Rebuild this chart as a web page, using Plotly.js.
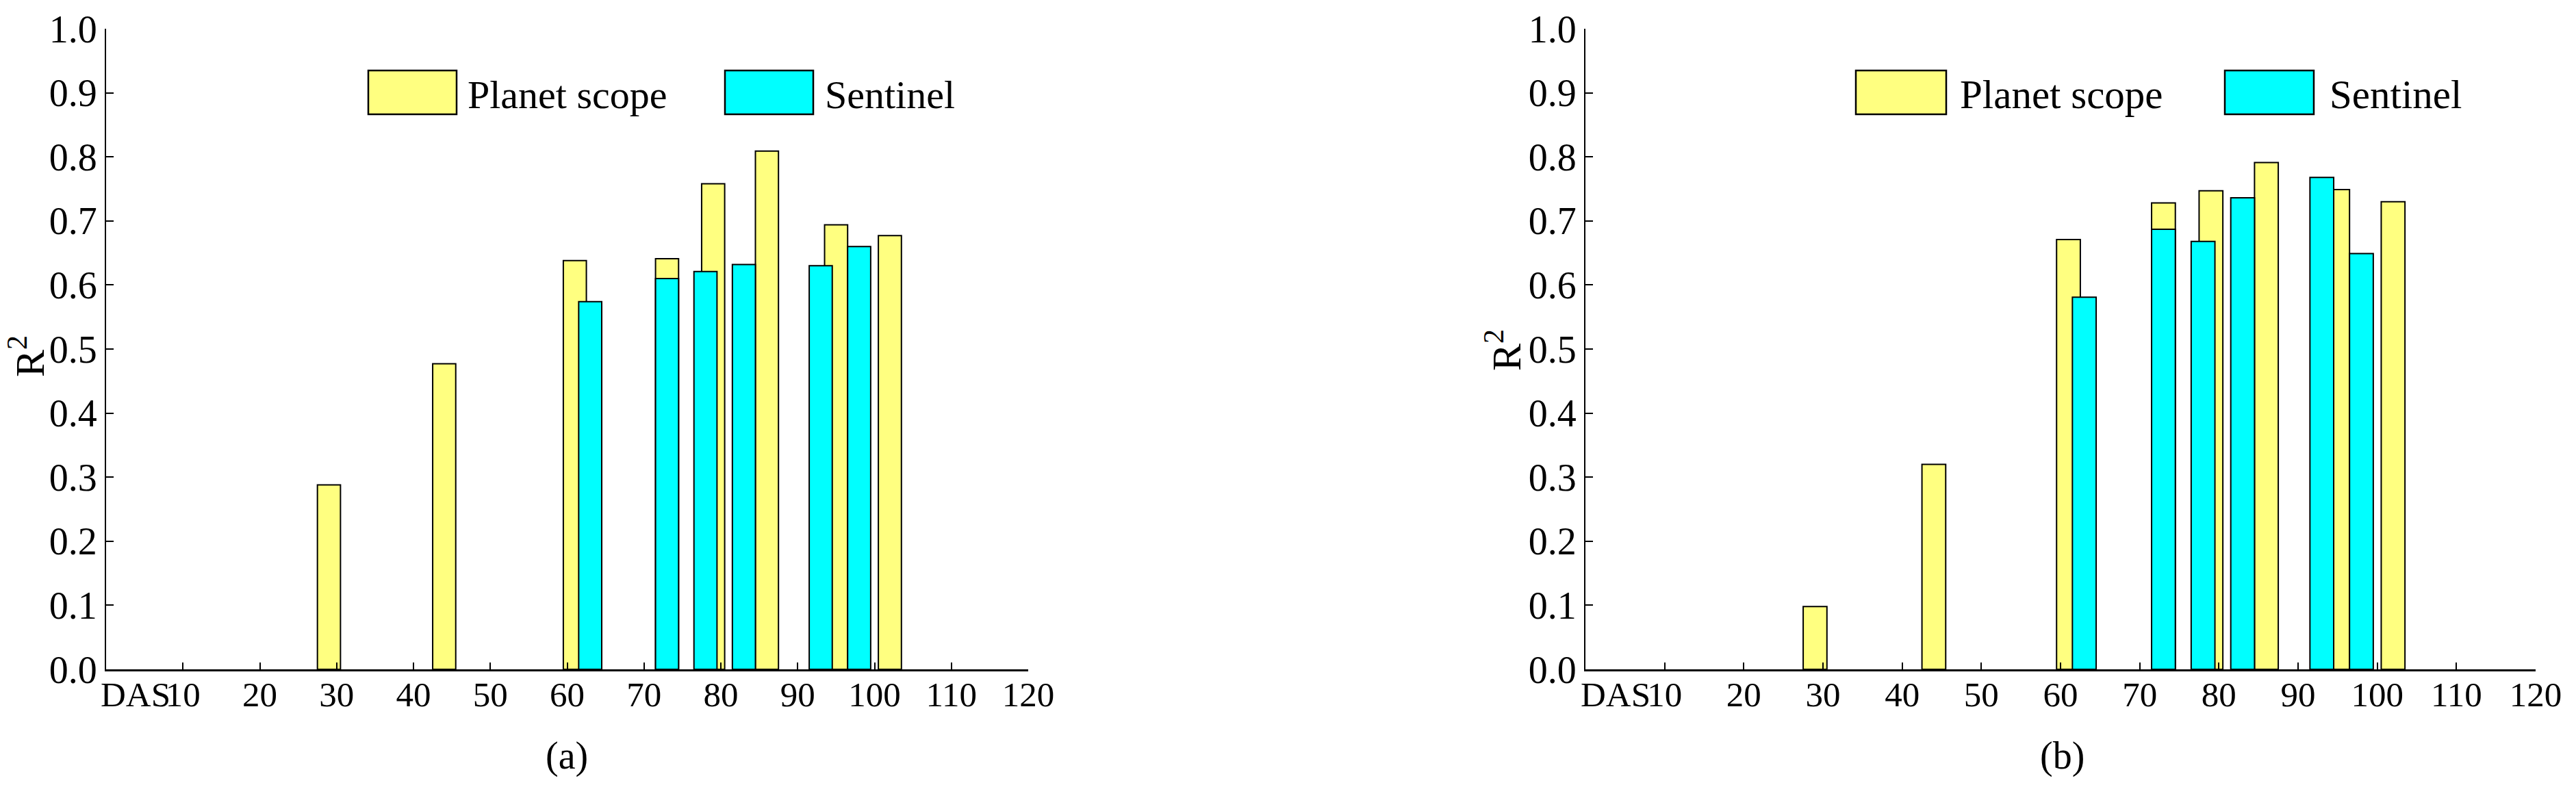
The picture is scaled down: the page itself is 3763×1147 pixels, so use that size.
<!DOCTYPE html>
<html>
<head>
<meta charset="utf-8">
<script src="https://cdn.plot.ly/plotly-3.0.1.min.js"></script>
<style>
  html, body { margin: 0; padding: 0; background: #fff; }
  #chart { width: 3763px; height: 1147px; }
</style>
</head>
<body>
<div id="chart"></div>
<script>
// DAS of each acquisition
var dasPlanet = [29, 44, 61, 73, 79, 86, 95, 102];
var dasSentinel = [63, 73, 78, 83, 93, 98];

// R2 values, panel (a)
var r2PlanetA = [0.288, 0.477, 0.638, 0.641, 0.758, 0.809, 0.694, 0.677];
var r2SentinelA = [0.574, 0.610, 0.621, 0.632, 0.630, 0.660];

// R2 values, panel (b)
var r2PlanetB = [0.098, 0.320, 0.671, 0.728, 0.747, 0.791, 0.749, 0.730];
var r2SentinelB = [0.581, 0.687, 0.668, 0.736, 0.768, 0.649];

var xTicks = [10, 20, 30, 40, 50, 60, 70, 80, 90, 100, 110, 120];
var yTicks = [0, 0.1, 0.2, 0.3, 0.4, 0.5, 0.6, 0.7, 0.8, 0.9, 1.0];
var seriesNames = ['Planet scope', 'Sentinel'];
var seriesColors = ['#ffff80', '#00ffff'];

const W = 3763, H = 1147;
const FONT = 'Liberation Serif';
function px(x) { return x / W; }
function py(y) { return 1 - y / H; }

function barTrace(x, y, i, axis) {
    return {
        type: 'bar',
        x: x,
        y: y,
        width: 3,
        name: seriesNames[i],
        xaxis: 'x' + axis,
        yaxis: 'y' + axis,
        marker: { color: seriesColors[i], line: { color: '#000', width: 2 } },
        hoverinfo: 'x+y'
    };
}

var data = [
    barTrace(dasPlanet, r2PlanetA, 0, ''),
    barTrace(dasSentinel, r2SentinelA, 1, ''),
    barTrace(dasPlanet, r2PlanetB, 0, '2'),
    barTrace(dasSentinel, r2SentinelB, 1, '2')
];

function xAxis(domain, anchor) {
    return {
        domain: domain,
        anchor: anchor,
        range: [0, 120],
        tickvals: xTicks,
        ticks: 'inside',
        ticklen: 10,
        tickwidth: 2,
        tickcolor: '#000',
        ticklabelstandoff: -10,
        showline: true,
        linecolor: '#000',
        linewidth: 3,
        showgrid: false,
        zeroline: false,
        tickfont: { family: FONT, size: 51, color: '#000' }
    };
}

function yAxis(anchor) {
    return {
        domain: [py(978), py(42)],
        anchor: anchor,
        range: [0, 1],
        tickvals: yTicks,
        tickformat: '.1f',
        ticks: 'inside',
        ticklen: 11,
        tickwidth: 2,
        tickcolor: '#000',
        showline: true,
        linecolor: '#000',
        linewidth: 2,
        showgrid: false,
        zeroline: false,
        tickfont: { family: FONT, size: 56, color: '#000' }
    };
}

function textNote(text, x, y, size, opts) {
    return Object.assign({
        text: text,
        xref: 'paper', yref: 'paper',
        x: px(x), y: py(y),
        xanchor: 'center', yanchor: 'middle',
        showarrow: false,
        font: { family: FONT, size: size, color: '#000' }
    }, opts || {});
}

function swatch(x0, x1, y0, y1, color) {
    return {
        type: 'rect', xref: 'paper', yref: 'paper',
        x0: px(x0), x1: px(x1), y0: py(y1), y1: py(y0),
        fillcolor: color,
        line: { color: '#000', width: 2.5 }
    };
}

var layout = {
    width: W,
    height: H,
    margin: { l: 0, r: 0, t: 0, b: 0 },
    paper_bgcolor: '#fff',
    plot_bgcolor: 'rgba(0,0,0,0)',
    barmode: 'overlay',
    showlegend: false,
    xaxis: xAxis([px(155), px(1502)], 'y'),
    yaxis: yAxis('x'),
    xaxis2: xAxis([px(2316), px(3704)], 'y2'),
    yaxis2: yAxis('x2'),
    shapes: [
        swatch(538, 667, 103, 167, seriesColors[0]),
        swatch(1059, 1188, 103, 167, seriesColors[1]),
        swatch(2711, 2843, 103, 167, seriesColors[0]),
        swatch(3250, 3380, 103, 167, seriesColors[1])
    ],
    annotations: [
        textNote(seriesNames[0], 681, 138, 58, { xanchor: 'left' }),
        textNote(seriesNames[1], 1203, 138, 58, { xanchor: 'left' }),
        textNote(seriesNames[0], 2861, 138, 59, { xanchor: 'left' }),
        textNote(seriesNames[1], 3401, 138, 59, { xanchor: 'left' }),
        textNote('R<sup>2</sup>', 40, 521, 60, { textangle: -90 }),
        textNote('R<sup>2</sup>', 2196, 512, 60, { textangle: -90 }),
        textNote('DAS', 145, 1015, 51, { xanchor: 'left' }),
        textNote('DAS', 2307, 1015, 51, { xanchor: 'left' }),
        textNote('(a)', 828, 1104, 56),
        textNote('(b)', 3012, 1104, 56)
    ]
};

Plotly.newPlot('chart', data, layout, { displayModeBar: false, staticPlot: true });
</script>
</body>
</html>
